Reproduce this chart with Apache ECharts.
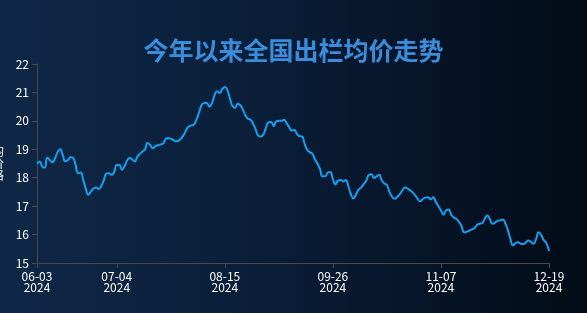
<!DOCTYPE html>
<html>
<head>
<meta charset="utf-8">
<script src="https://cdn.jsdelivr.net/npm/echarts@6/dist/echarts.min.js"></script>
<style>
html,body{margin:0;padding:0;}
#chart{width:587px;height:313px;background:linear-gradient(90deg,#0f2847 0%,#0a1e38 45%,#020b17 100%);}
</style>
</head>
<body>
<div id="chart"></div>
<script>
var titleText = '今年以来全国出栏均价走势';
var yAxisName = '均\n价\n格';
var startDate = [2024, 6, 3];
var dayCount = 200;
var yTicks = {min: 15, max: 22, interval: 1};
var prices = [
18.49,18.57,18.40,18.35,18.70,18.62,18.54,18.68,18.90,19.00,
18.80,18.58,18.62,18.72,18.70,18.45,18.16,18.18,17.90,17.60,
17.40,17.52,17.62,17.66,17.60,17.72,17.92,18.15,18.16,18.10,
18.20,18.45,18.45,18.28,18.40,18.60,18.69,18.64,18.57,18.74,
18.84,18.92,19.00,19.22,19.15,19.04,19.11,19.14,19.17,19.20,
19.36,19.40,19.37,19.33,19.28,19.30,19.38,19.50,19.68,19.80,
19.84,19.87,20.05,20.30,20.56,20.63,20.63,20.50,20.62,20.90,
21.04,20.98,21.12,21.19,21.08,20.78,20.52,20.46,20.60,20.55,
20.40,20.20,20.07,20.04,19.90,19.70,19.48,19.45,19.52,19.76,
19.95,19.96,19.82,19.98,20.00,20.00,20.04,19.92,19.78,19.66,
19.68,19.55,19.46,19.45,19.20,18.98,18.90,18.85,18.65,18.50,
18.30,18.05,18.05,18.18,18.20,17.95,17.76,17.90,17.92,17.87,
17.92,17.70,17.42,17.27,17.42,17.58,17.66,17.78,17.90,18.10,
18.12,17.99,18.05,18.10,17.90,17.80,17.74,17.50,17.33,17.26,
17.32,17.42,17.55,17.66,17.62,17.56,17.48,17.38,17.25,17.17,
17.26,17.30,17.31,17.24,17.31,17.15,17.00,16.85,16.70,16.85,
16.88,16.70,16.60,16.55,16.45,16.30,16.08,16.10,16.14,16.18,
16.22,16.34,16.38,16.40,16.55,16.67,16.55,16.38,16.42,16.48,
16.50,16.53,16.40,16.15,15.85,15.62,15.70,15.73,15.68,15.67,
15.72,15.79,15.74,15.68,15.85,16.08,15.98,15.80,15.70,15.42
];

function pad(n){return (n<10?'0':'')+n;}
var dates = [];
for (var k = 0; k < dayCount; k++) {
  var d = new Date(startDate[0], startDate[1]-1, startDate[2]+k);
  dates.push(pad(d.getMonth()+1)+'-'+pad(d.getDate())+'\n'+d.getFullYear());
}
var lastIdx = dates.length - 1;
function showIdx(i){ return i === 0 || (lastIdx - i) % 42 === 0; }

var chart = echarts.init(document.getElementById('chart'), null, {renderer:'canvas'});
chart.setOption({
  animation: false,
  backgroundColor: 'transparent',
  title: {
    text: titleText,
    left: 'center',
    top: 33,
    textStyle: {color:'#3a8ddc', fontSize: 25, fontWeight: 'bold', fontFamily: 'Noto Sans CJK SC'}
  },
  grid: {left: 37, right: 38, top: 64, bottom: 50, containLabel: false, outerBoundsMode: 'none'},
  xAxis: {
    type: 'category',
    data: dates,
    boundaryGap: false,
    axisLine: {lineStyle: {color: '#4a4a48', width: 1}},
    axisTick: {show: true, interval: function(i){return showIdx(i);}, lineStyle: {color:'#4a4a48'}},
    axisLabel: {
      color: '#ffffff', fontSize: 12, lineHeight: 11, margin: 8,
      fontFamily: 'Noto Sans CJK SC',
      interval: function(i){return showIdx(i);}
    },
    splitLine: {show: false}
  },
  yAxis: {
    type: 'value',
    min: yTicks.min, max: yTicks.max, interval: yTicks.interval,
    name: yAxisName,
    nameLocation: 'middle',
    nameRotate: 0,
    nameGap: 33,
    nameTextStyle: {color:'#ffffff', fontSize: 12, lineHeight: 12, fontFamily: 'Noto Sans CJK SC'},
    axisLine: {show: true, lineStyle: {color: '#4a4a48'}},
    axisTick: {show: true, lineStyle: {color:'#4a4a48'}},
    axisLabel: {color: '#ffffff', fontSize: 12, fontFamily: 'Noto Sans CJK SC'},
    splitLine: {show: false}
  },
  series: [{
    type: 'line',
    data: prices,
    smooth: true,
    showSymbol: false,
    symbol: 'none',
    lineStyle: {color: '#12a0f0', width: 2}
  }]
});
</script>
</body>
</html>
